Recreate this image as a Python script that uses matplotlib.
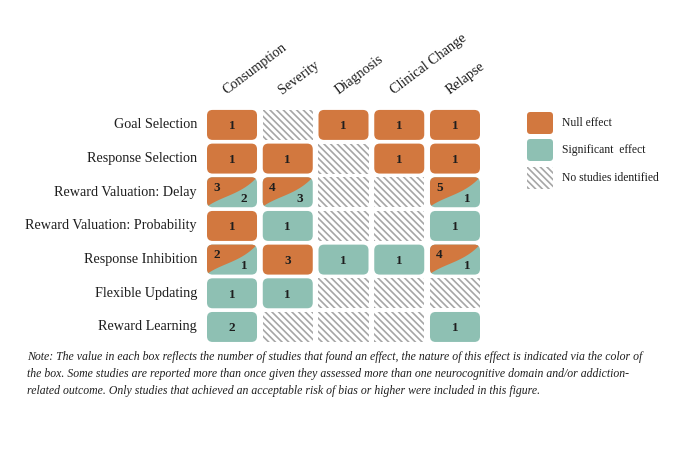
import numpy as np
import matplotlib
matplotlib.use("Agg")
import matplotlib.pyplot as plt
from matplotlib.patches import FancyBboxPatch, Rectangle, Polygon

# Neurocognitive domains (rows) and addiction outcomes (columns)
domains = ["Goal Selection", "Response Selection", "Reward Valuation: Delay",
           "Reward Valuation: Probability", "Response Inhibition",
           "Flexible Updating", "Reward Learning"]
outcomes = ["Consumption", "Severity", "Diagnosis", "Clinical Change", "Relapse"]

# number of studies with a null effect / significant effect in each box
null_counts = [[1, 0, 1, 1, 1],
               [1, 1, 0, 1, 1],
               [3, 4, 0, 0, 5],
               [1, 0, 0, 0, 0],
               [2, 3, 0, 0, 4],
               [0, 0, 0, 0, 0],
               [0, 0, 0, 0, 0]]
sig_counts = [[0, 0, 0, 0, 0],
              [0, 0, 0, 0, 0],
              [2, 3, 0, 0, 1],
              [0, 1, 0, 0, 1],
              [1, 0, 1, 1, 1],
              [1, 1, 0, 0, 0],
              [2, 0, 0, 0, 1]]

legend_labels = ["Null effect", "Significant  effect", "No studies identified"]
note = ("Note: The value in each box reflects the number of studies that found an effect, the nature of this effect is indicated via the color of\n"
        "the box. Some studies are reported more than once given they assessed more than one neurocognitive domain and/or addiction-\n"
        "related outcome. Only studies that achieved an acceptable risk of bias or higher were included in this figure.")

orange = "#D2783F"
teal = "#8EC0B3"
hatch_gray = "#A6A6A6"
text_col = "#1e1e1e"
serif = ["Liberation Serif", "DejaVu Serif"]

plt.rcParams["font.family"] = serif
plt.rcParams["hatch.linewidth"] = 1.2

fig = plt.figure(figsize=(6.8, 4.49), dpi=100)
ax = fig.add_axes([0.3002, 0.2343, 0.4099, 0.525])
ax.set_xlim(-0.5, len(outcomes) - 0.5)
ax.set_ylim(len(domains) - 0.5, -0.5)
ax.axis("off")

cw, ch = 0.897, 0.89
aspect = 55.75 / 33.67
rstyle = "round,pad=0,rounding_size=0.1"
hatch = "\\" * 5

# boundary curve for split boxes (cubic bezier in cell units, v measured upward)
t = np.linspace(0, 1, 60)
p = np.array([[0, 0.02], [0.3, 0.38], [0.68, 0.42], [1.0, 1.0]])
curve = ((1 - t) ** 3)[:, None] * p[0] + (3 * (1 - t) ** 2 * t)[:, None] * p[1] \
    + (3 * (1 - t) * t ** 2)[:, None] * p[2] + (t ** 3)[:, None] * p[3]

for r in range(len(domains)):
    for c in range(len(outcomes)):
        n, s = null_counts[r][c], sig_counts[r][c]
        x0, y0 = c - cw / 2, r - ch / 2
        if n == 0 and s == 0:
            ax.add_patch(Rectangle((x0, y0), cw, ch, facecolor="white",
                                   edgecolor=hatch_gray, linewidth=0,
                                   hatch=hatch))
            continue
        if n > 0 and s > 0:
            box = FancyBboxPatch((x0, y0), cw, ch, boxstyle=rstyle,
                                 mutation_aspect=aspect, facecolor=teal,
                                 edgecolor="none")
            ax.add_patch(box)
            u = curve[:, 0]
            v = curve[:, 1]
            pts = [(x0 + uu * cw, y0 + (1 - vv) * ch) for uu, vv in zip(u, v)]
            pts += [(x0 + 1.05 * cw, y0 - 0.05 * ch), (x0 - 0.05 * cw, y0 - 0.05 * ch),
                    (x0 - 0.05 * cw, y0 + (1 - v[0]) * ch)]
            poly = Polygon(pts, closed=True, facecolor=orange, edgecolor="none")
            ax.add_patch(poly)
            poly.set_clip_path(box)
            ax.text(x0 + 0.19 * cw, y0 + 0.36 * ch, str(n), ha="center", va="center",
                    fontsize=9.5, fontweight="bold", color=text_col)
            ax.text(x0 + 0.74 * cw, y0 + 0.72 * ch, str(s), ha="center", va="center",
                    fontsize=9.5, fontweight="bold", color=text_col)
        else:
            col = orange if n > 0 else teal
            ax.add_patch(FancyBboxPatch((x0, y0), cw, ch, boxstyle=rstyle,
                                        mutation_aspect=aspect, facecolor=col,
                                        edgecolor="none"))
            ax.text(c, r + 0.04, str(n if n > 0 else s), ha="center", va="center",
                    fontsize=9.5, fontweight="bold", color=text_col)

# row labels
for r, name in enumerate(domains):
    ax.text(-0.63, r, name, ha="right", va="center", fontsize=10.2, color=text_col)

# column labels
for c, name in enumerate(outcomes):
    ax.text(c - 0.06, -0.82, name, ha="left", va="bottom", rotation=37,
            rotation_mode="anchor", fontsize=10.2, color=text_col)

# legend and note on an overlay in pixel units
ov = fig.add_axes([0, 0, 1, 1])
ov.set_xlim(0, 680)
ov.set_ylim(449, 0)
ov.axis("off")
leg_y = [112, 139, 167]
for i, lab in enumerate(legend_labels):
    if i < 2:
        ov.add_patch(FancyBboxPatch((527, leg_y[i]), 26, 22,
                                    boxstyle="round,pad=0,rounding_size=3.5",
                                    facecolor=[orange, teal][i], edgecolor="none"))
    else:
        ov.add_patch(Rectangle((527, leg_y[i]), 26, 22, facecolor="white",
                               edgecolor=hatch_gray, linewidth=0, hatch=hatch))
    ov.text(562, leg_y[i] + 11, lab, ha="left", va="center", fontsize=8.4,
            color=text_col)

ov.text(27, 351, note, ha="left", va="top", fontsize=8.5, fontstyle="italic",
        linespacing=1.58, color=text_col)

fig.savefig("out.png", dpi=100, facecolor="white")
